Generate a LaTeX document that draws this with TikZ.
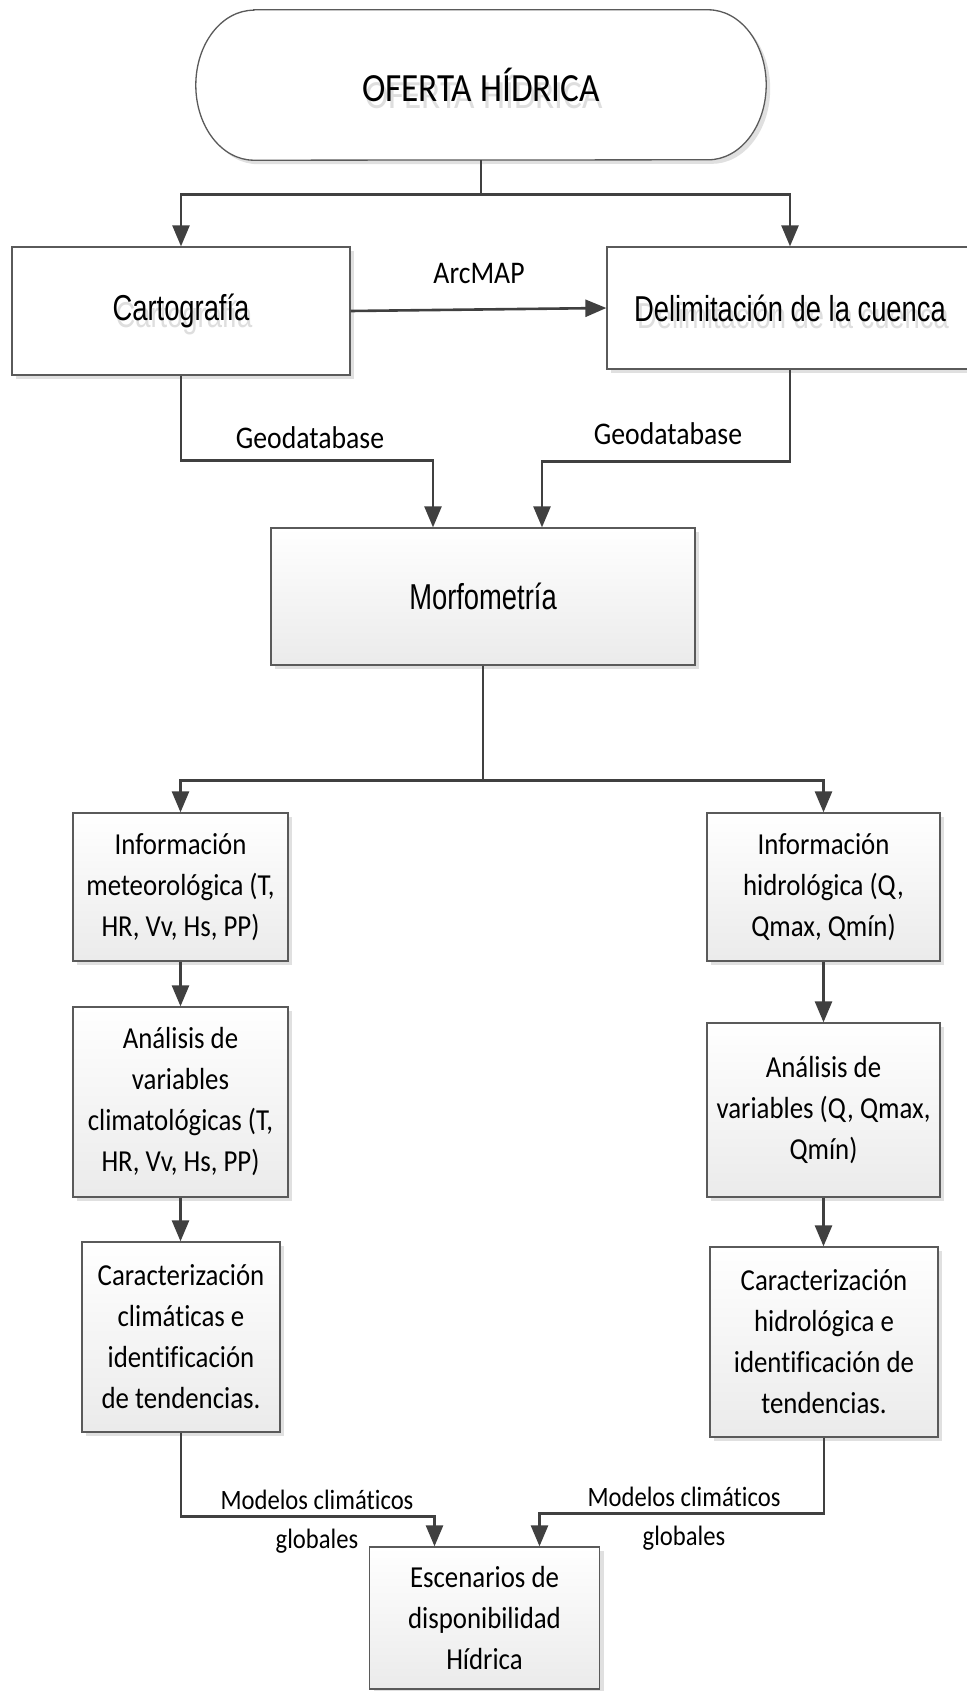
\documentclass[tikz,border=0pt]{standalone}
\usepackage{fontspec}
\setmainfont{Carlito}[FakeStretch=0.88, Ligatures=NoCommon]
\newfontfamily\arialfont{Liberation Sans}[FakeStretch=0.76]
\usetikzlibrary{arrows.meta,shadows,calc,backgrounds}
\definecolor{linegray}{HTML}{404040}
\definecolor{edgegray}{HTML}{5A5A5A}
% text with a light grey copy set a little lower and to the right
\newcommand\shadowtext[1]{\rlap{\smash{\raisebox{-7pt}{\hspace{3pt}\textcolor{black!13}{#1}}}}#1}

\begin{document}
\begin{tikzpicture}[x=1pt,y=-1pt,
  conn/.style={draw=linegray, line width=2.6pt, -{Triangle[length=21pt,width=17pt]}},
  plainbox/.style={draw=edgegray, line width=1.3pt, fill=white, inner sep=0pt,
    drop shadow={shadow xshift=4pt, shadow yshift=-4pt, fill=black!12, opacity=1}},
  shadedbox/.style={plainbox, top color=white, bottom color=black!8},
  arialtxt/.style={font=\arialfont\fontsize{36}{43}\selectfont},
  boxtxt/.style={font=\fontsize{30.5}{41}\selectfont, align=center},
  lbl/.style={font=\fontsize{31.5}{38}\selectfont, inner sep=0pt},
  lblsmall/.style={font=\fontsize{28}{39}\selectfont, inner sep=0pt, align=center},
]
\useasboundingbox (0,0) rectangle (966,1691);

% start terminator
\node[minimum width=570pt, minimum height=150pt, inner sep=0pt,
      font=\fontsize{40}{48}\selectfont] (oferta) at (481,85) {\shadowtext{OFERTA HÍDRICA}};
\begin{scope}[on background layer]
  \fill[white] (0,0) rectangle (966,1691);
  \fill[black!12] ([xshift=62pt,yshift=-4pt]oferta.north west) -- ([xshift=-54pt,yshift=-4pt]oferta.north east)
    arc[start angle=90,end angle=-90,x radius=58pt,y radius=75pt]
    -- ([xshift=62pt,yshift=-4pt]oferta.south west)
    arc[start angle=270,end angle=90,x radius=58pt,y radius=75pt] -- cycle;
  \draw[draw=edgegray, line width=1.3pt, fill=white] ([xshift=58pt]oferta.north west) -- ([xshift=-58pt]oferta.north east)
    arc[start angle=90,end angle=-90,x radius=58pt,y radius=75pt]
    -- ([xshift=58pt]oferta.south west)
    arc[start angle=270,end angle=90,x radius=58pt,y radius=75pt] -- cycle;
\end{scope}

% upper boxes
\node[plainbox, arialtxt, minimum width=338pt, minimum height=128pt] (carto) at (181,311) {\shadowtext{Cartografía}};
\node[plainbox, arialtxt, minimum width=366pt, minimum height=122pt] (delim) at (790,308) {\shadowtext{Delimitación de la cuenca}};
\node[shadedbox, arialtxt, minimum width=424pt, minimum height=137pt] (morf) at (483,596.5) {Morfometría};

% meteorological branch
\node[shadedbox, boxtxt, minimum width=215pt, minimum height=148pt] (met1) at (180.5,887)
  {Información\\meteorológica (T,\\HR, Vv, Hs, PP)};
\node[shadedbox, boxtxt, minimum width=215pt, minimum height=190pt] (met2) at (180.5,1102)
  {Análisis de\\variables\\climatológicas (T,\\HR, Vv, Hs, PP)};
\node[shadedbox, boxtxt, minimum width=198pt, minimum height=190pt] (met3) at (181,1337)
  {Caracterización\\climáticas e\\identificación\\de tendencias.};

% hydrological branch
\node[shadedbox, boxtxt, minimum width=233pt, minimum height=148pt] (hid1) at (823.5,887)
  {Información\\hidrológica (Q,\\Qmax, Qmín)};
\node[shadedbox, boxtxt, minimum width=233pt, minimum height=174pt] (hid2) at (823.5,1110)
  {Análisis de\\variables (Q, Qmax,\\Qmín)};
\node[shadedbox, boxtxt, minimum width=228pt, minimum height=190pt] (hid3) at (824,1342)
  {Caracterización\\hidrológica e\\identificación de\\tendencias.};

% result
\node[shadedbox, boxtxt, minimum width=230pt, minimum height=142pt] (esc) at (484.5,1618)
  {Escenarios de\\disponibilidad\\Hídrica};

% connectors
\draw[conn] (oferta.south) -- ++(0,34) -| (carto.north);
\draw[conn] (oferta.south) -- ++(0,34) -| (delim.north);
\draw[conn] (carto.east) -- (delim.west);
\draw[conn] (carto.south) -- ++(0,85) -| ($(morf.north)+(-50,0)$);
\draw[conn] (delim.south) -- ++(0,92) -| ($(morf.north)+(59,0)$);
\draw[conn] (morf.south) -- ++(0,115) -| (met1.north);
\draw[conn] (morf.south) -- ++(0,115) -| (hid1.north);
\draw[conn] (met1.south) -- (met1.south |- met2.north);
\draw[conn] (met2.south) -- (met2.south |- met3.north);
\draw[conn] (hid1.south) -- (hid1.south |- hid2.north);
\draw[conn] (hid2.south) -- (hid2.south |- hid3.north);
\draw[conn] (met3.south) -- ++(0,84) -| ($(esc.north)+(-50,0)$);
\draw[conn] (hid3.south) -- ++(0,76) -| ($(esc.north)+(55,0)$);

% connector labels
\node[lbl, anchor=base] (arcmap) at (479,283) {ArcMAP};
\node[lbl, anchor=base] (geo1) at (310,448) {Geodatabase};
\node[lbl, anchor=base] (geo2) at (668,444) {Geodatabase};
\node[lblsmall, anchor=base] (mod1) at (317,1548) {Modelos climáticos\\globales};
\node[lblsmall, anchor=base] (mod2) at (684,1545) {Modelos climáticos\\globales};
\end{tikzpicture}
\end{document}
